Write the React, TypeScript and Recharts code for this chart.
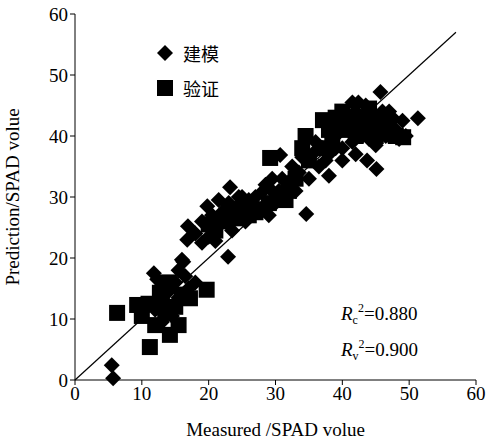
import {
  ScatterChart,
  Scatter,
  XAxis,
  YAxis,
  ReferenceLine,
} from 'recharts';

// [measured, predicted]
const modelingPoints: [number, number][] = [
  [5.5, 2.4], [5.7, 0.3],
  [11.8, 17.5], [12.3, 16.5], [13, 15.5], [12.5, 13], [13.5, 12], [14, 14.5], [15, 16],
  [15.5, 18], [16.2, 19.4], [16.5, 17], [17, 15], [14.5, 10.5], [13, 9.5], [12, 11.5],
  [15.5, 13.5], [16.8, 14.5], [18, 16],
  [16, 19.7], [16.9, 25.2], [16.8, 23], [18, 24], [19, 26], [19.8, 28.5], [20.5, 27],
  [21, 25], [21.5, 29.5], [22, 27.5], [22.5, 26], [23.2, 31.6], [23, 29], [24, 27.5],
  [24.5, 30], [25, 28], [25.5, 26], [26, 29.5], [26.5, 27.5], [27, 30], [28, 30.8],
  [28.5, 28], [29, 27], [22.9, 20.2], [20, 23.5], [19, 22.5], [21, 22.8], [23.5, 24.5],
  [25, 30], [27, 28.5], [29.5, 31],
  [30, 29], [30.5, 31], [31, 33], [31.5, 30], [32, 32.5], [32.5, 35], [33, 31],
  [33.5, 34], [34, 36.5], [34.6, 27.2], [35, 33], [35.5, 37], [36, 39], [36.5, 35],
  [37, 38], [37.5, 36], [38, 33.5], [30.7, 36.9], [29.5, 33], [28.5, 32],
  [39, 40], [39.5, 42], [40, 38], [40.5, 43], [41, 41], [41.5, 39], [42, 44], [42.5, 42],
  [43, 40], [43.5, 45], [44, 43], [44.5, 41], [45, 38.5], [45.7, 47.2], [45.1, 34.6],
  [46, 42], [46.5, 40], [47, 44], [47.5, 43], [48, 41], [48.5, 39.5], [49, 42.5],
  [51.3, 42.9], [42, 37], [43.7, 36], [40, 36], [41.5, 45.5], [42.4, 45.5], [49.5, 40],
  [41, 43], [43, 43], [45, 43], [42, 41], [44, 39.5], [46, 44], [47, 40], [38, 37], [39, 38],
];

const validationPoints: [number, number][] = [
  [6.3, 11], [11.2, 5.4], [9.3, 12.3], [14.2, 7.4], [19.7, 14.8], [17.2, 13.4],
  [12.7, 14.3], [11, 12.5], [13.5, 11], [14, 16], [15, 12], [16, 14], [15.5, 9],
  [10, 10.5], [13, 13], [12, 9],
  [20, 25.5], [21, 24.5], [22, 26], [24, 26.5], [26, 27], [27, 27.5], [28, 28],
  [29, 29], [29.2, 36.4], [30.5, 30], [31.5, 29.5], [32, 31], [33, 33], [25, 28], [23, 28],
  [34, 38], [35, 36], [34.5, 40], [37.1, 42.6], [36.7, 38], [38, 41], [39, 43],
  [40, 41], [41, 42], [42, 40], [43, 41], [44, 42], [45, 40], [46, 41], [47, 42],
  [48, 40], [38.5, 39], [40, 44], [44, 44.5], [49.1, 39.8],
];

const axisTicks = [0, 10, 20, 30, 40, 50, 60];
const fitLine = [{ x: 0, y: 0 }, { x: 57, y: 57 }];
const legendItems = [
  { label: '建模', shape: 'diamond' },
  { label: '验证', shape: 'square' },
];

const modelingData = modelingPoints.map(([x, y]) => ({ x, y }));
const validationData = validationPoints.map(([x, y]) => ({ x, y }));

const FONT = "'Liberation Serif', 'Times New Roman', serif";

const Diamond = (p: any) => (
  <path
    d={`M${p.cx},${p.cy - 8}L${p.cx + 8},${p.cy}L${p.cx},${p.cy + 8}L${p.cx - 8},${p.cy}Z`}
    fill="#000"
  />
);

const Square = (p: any) => (
  <rect x={p.cx - 8} y={p.cy - 8} width={16} height={16} fill="#000" />
);

const subStyle = { fontSize: 12, position: 'relative' as const, top: 4, verticalAlign: 'baseline' };
const supStyle = { fontSize: 12, position: 'relative' as const, top: -8, verticalAlign: 'baseline' };

export default function App() {
  return (
    <div style={{ position: 'absolute', left: 0, top: 0, width: 493, height: 443, background: '#fff' }}>
      <ScatterChart
        width={493}
        height={443}
        margin={{ top: 14, right: 17, bottom: 0, left: 0 }}
      >
        <XAxis
          type="number"
          dataKey="x"
          domain={[0, 60]}
          ticks={axisTicks}
          interval={0}
          height={63}
          stroke="#000"
          tickSize={5}
          tick={{ fill: '#000', fontSize: 19, fontFamily: FONT }}
          label={{
            value: 'Measured /SPAD volue',
            position: 'insideBottom',
            offset: 7,
            style: { fill: '#000', fontSize: 19, fontFamily: FONT },
          }}
        />
        <YAxis
          type="number"
          dataKey="y"
          domain={[0, 60]}
          ticks={axisTicks}
          interval={0}
          width={75}
          stroke="#000"
          tickSize={5}
          tick={{ fill: '#000', fontSize: 19, fontFamily: FONT }}
          label={{
            value: 'Prediction/SPAD volue',
            angle: -90,
            position: 'insideLeft',
            offset: 12,
            style: { fill: '#000', fontSize: 19, fontFamily: FONT, textAnchor: 'middle' },
          }}
        />
        <ReferenceLine segment={fitLine} stroke="#000" strokeWidth={1.2} ifOverflow="visible" />
        <Scatter name="建模" data={modelingData} shape={Diamond} isAnimationActive={false} />
        <Scatter name="验证" data={validationData} shape={Square} isAnimationActive={false} />
      </ScatterChart>
      <div
        style={{
          position: 'absolute',
          left: 155,
          top: 35,
          fontFamily: "'Noto Sans CJK SC', sans-serif",
          fontSize: 18,
          color: '#000',
        }}
      >
        {legendItems.map((it) => (
          <div key={it.label} style={{ display: 'flex', alignItems: 'center', height: 35 }}>
            <svg width={20} height={20} style={{ marginRight: 8 }}>
              {it.shape === 'diamond' ? (
                <path d="M10,2L18,10L10,18L2,10Z" fill="#000" />
              ) : (
                <rect x={2} y={2} width={16} height={16} fill="#000" />
              )}
            </svg>
            <span>{it.label}</span>
          </div>
        ))}
      </div>
      <div
        style={{
          position: 'absolute',
          left: 341,
          top: 297,
          fontFamily: FONT,
          fontSize: 19,
          color: '#000',
          lineHeight: '33px',
        }}
      >
        <div>
          <i>R</i>
          <span style={subStyle}>c</span>
          <span style={supStyle}>2</span>=0.880
        </div>
        <div>
          <i>R</i>
          <span style={subStyle}>v</span>
          <span style={supStyle}>2</span>=0.900
        </div>
      </div>
    </div>
  );
}
